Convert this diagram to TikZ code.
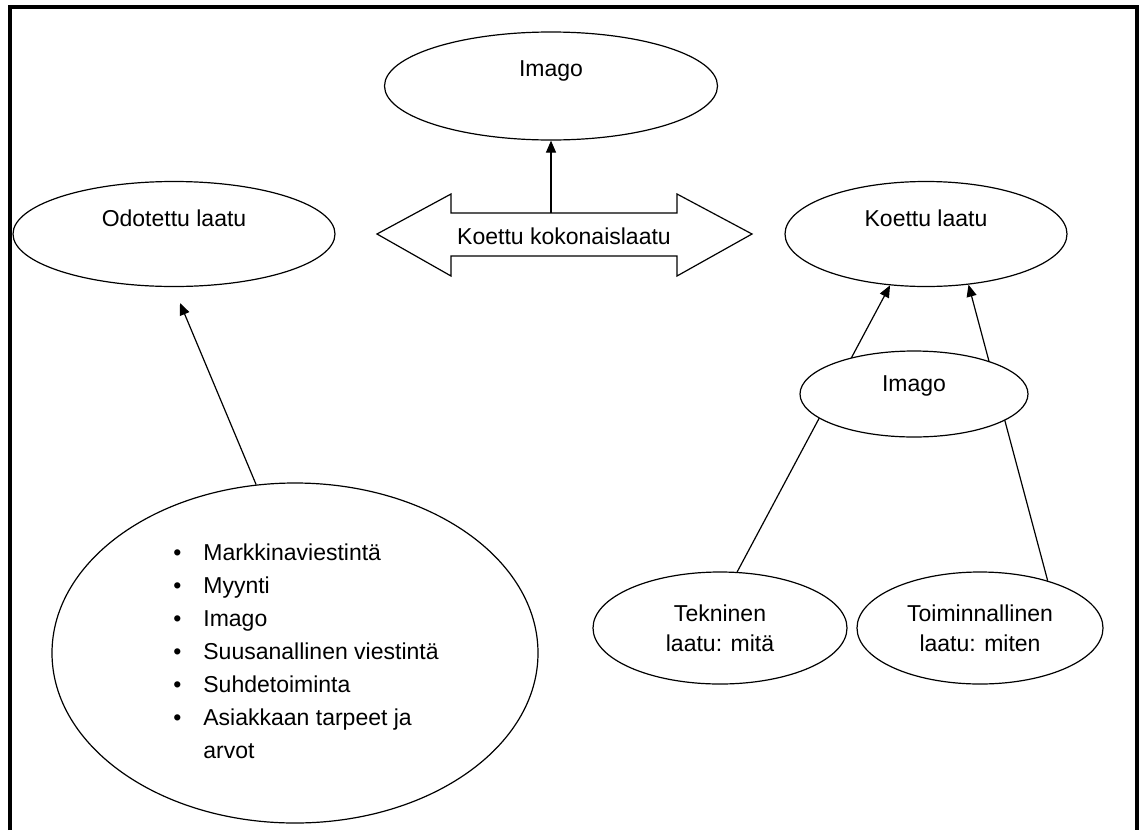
\documentclass[tikz,border=0pt]{standalone}
\usepackage{fontspec}
\setmainfont{Liberation Sans}
\usetikzlibrary{shapes.geometric,arrows.meta}
\tikzset{
  oval/.style={ellipse, draw, line width=1.2pt, fill=white, inner sep=0pt},
  arr/.style={line width=1.2pt, -{Triangle[length=12pt,width=10pt]}}
}
\begin{document}
\begin{tikzpicture}[x=1pt, y=-1pt, font=\fontsize{23}{30}\selectfont]
\useasboundingbox (0,0) rectangle (1139,830);
\draw[line width=4pt] (10,830) -- (10,7) -- (1137,7) -- (1137,830);

\node[oval, minimum width=333, minimum height=108, text height=16, text depth=36] (imagoA) at (551,86) {Imago};
\node[oval, minimum width=322, minimum height=105, text height=16, text depth=32] (odotettu) at (174,234) {Odotettu laatu};
\node[oval, minimum width=282, minimum height=105, text height=16, text depth=32] (koettu) at (926,234) {Koettu laatu};
\node[oval, minimum width=254, minimum height=112, align=center] (tek) at (720,628) {Tekninen\\laatu: mitä};
\node[oval, minimum width=246, minimum height=112, align=center] (toim) at (980,628) {Toiminnallinen\\laatu: miten};
\node[oval, minimum width=486, minimum height=340, font=\fontsize{23}{33}\selectfont] (lista) at (295,653) {%
\begin{tabular}{@{\hspace{22pt}}l@{\hspace{22pt}}l@{}}
•&Markkinaviestintä\\
•&Myynti\\
•&Imago\\
•&Suusanallinen viestintä\\
•&Suhdetoiminta\\
•&Asiakkaan tarpeet ja\\
&arvot
\end{tabular}};

\draw[line width=1.2pt] (377,234) -- (451,194) -- (451,213) -- (677,213) -- (677,194) -- (752,234) -- (677,276) -- (677,256) -- (451,256) -- (451,276) -- cycle;
\node (kok) at (564,236) {Koettu kokonaislaatu};
\coordinate (kokTop) at (551,213);
\coordinate (odoTip) at (180,303);

\draw[arr] (kokTop) -- (imagoA.south);
\draw[arr] (lista.103) -- (odoTip);
\draw[arr] (tek.73) -- (koettu.235);
\draw[arr] (toim.35) -- (koettu.310);

\node[oval, minimum width=228, minimum height=86, text height=16, text depth=22] (imagoB) at (914,394) {Imago};
\end{tikzpicture}
\end{document}
